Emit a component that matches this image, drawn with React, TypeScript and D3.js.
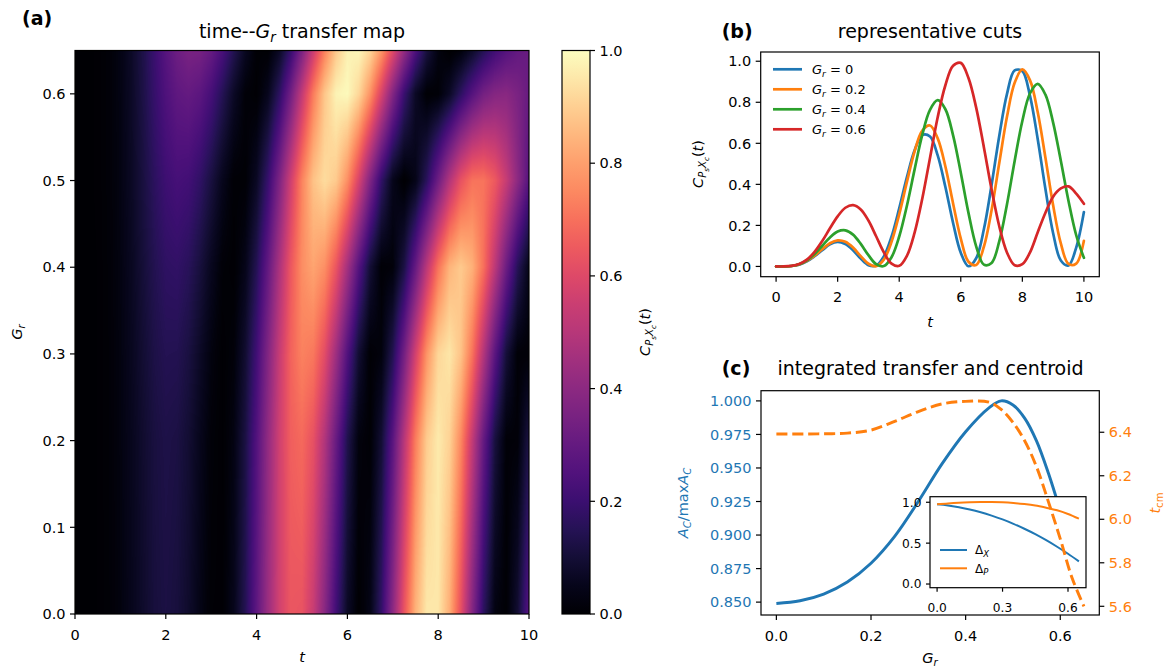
import { useMemo } from "react"
import * as d3 from "d3"

const FONT = "DejaVu Sans"
const TICK_FS = 14.5
const TITLE_FS = 19

// sample times shared by the heatmap rows and the cuts of panel (b)
const tSamples = [
  0, 0.25, 0.5, 0.75, 1, 1.25, 1.5, 1.75, 2, 2.25, 2.5, 2.75, 3, 3.25, 3.5, 3.75, 4, 4.25, 4.5, 4.75, 5,
  5.25, 5.5, 5.75, 6, 6.25, 6.5, 6.75, 7, 7.25, 7.5, 7.75, 8, 8.25, 8.5, 8.75, 9, 9.25, 9.5, 9.75, 10,
]

const cutGr000 = [
  0, 0.0, 0.002, 0.009, 0.025, 0.05, 0.079, 0.108, 0.12, 0.109, 0.079, 0.038, 0.006, 0.004, 0.049, 0.145,
  0.283, 0.435, 0.566, 0.64, 0.633, 0.541, 0.387, 0.212, 0.067, 0.001, 0.04, 0.181, 0.397, 0.636, 0.84,
  0.955, 0.952, 0.83, 0.62, 0.377, 0.162, 0.029, 0.005, 0.092, 0.265,
]
const cutGr020 = [
  0, 0.0, 0.002, 0.01, 0.027, 0.053, 0.084, 0.113, 0.127, 0.12, 0.092, 0.05, 0.013, 0.001, 0.033, 0.12,
  0.254, 0.412, 0.561, 0.662, 0.687, 0.624, 0.487, 0.307, 0.136, 0.023, 0.007, 0.096, 0.274, 0.504, 0.729,
  0.895, 0.96, 0.907, 0.751, 0.53, 0.298, 0.112, 0.012, 0.014, 0.125,
]
const cutGr030 = [
  0, 0.0, 0.002, 0.01, 0.028, 0.057, 0.092, 0.125, 0.144, 0.142, 0.116, 0.071, 0.026, 0.001, 0.017, 0.088,
  0.212, 0.372, 0.537, 0.671, 0.738, 0.718, 0.612, 0.442, 0.253, 0.092, 0.007, 0.023, 0.141, 0.337, 0.568,
  0.777, 0.916, 0.951, 0.876, 0.71, 0.493, 0.275, 0.104, 0.012, 0.01,
]
const cutGr040 = [
  0, 0.0, 0.002, 0.011, 0.03, 0.061, 0.101, 0.141, 0.17, 0.176, 0.155, 0.11, 0.055, 0.011, 0.002, 0.045,
  0.146, 0.296, 0.473, 0.642, 0.763, 0.81, 0.766, 0.639, 0.457, 0.261, 0.098, 0.009, 0.017, 0.122, 0.302,
  0.514, 0.709, 0.844, 0.89, 0.837, 0.701, 0.515, 0.319, 0.152, 0.042,
]
const cutGr050 = [
  0, 0.0, 0.003, 0.012, 0.032, 0.067, 0.113, 0.163, 0.204, 0.224, 0.215, 0.175, 0.114, 0.05, 0.007, 0.007,
  0.066, 0.189, 0.361, 0.557, 0.741, 0.874, 0.929, 0.892, 0.768, 0.581, 0.37, 0.179, 0.048, 0.0, 0.042,
  0.16, 0.324, 0.493, 0.63, 0.707, 0.709, 0.65, 0.54, 0.4, 0.26,
]
const cutGr060 = [
  0, 0.0, 0.003, 0.012, 0.033, 0.071, 0.124, 0.186, 0.244, 0.286, 0.299, 0.278, 0.224, 0.147, 0.069, 0.014,
  0.003, 0.052, 0.165, 0.331, 0.529, 0.727, 0.883, 0.978, 0.992, 0.918, 0.774, 0.581, 0.376, 0.196, 0.068,
  0.006, 0.011, 0.069, 0.167, 0.262, 0.34, 0.38, 0.39, 0.355, 0.305,
]
const cutGr065 = [
  0, 0.0, 0.003, 0.012, 0.034, 0.073, 0.128, 0.196, 0.264, 0.32, 0.351, 0.345, 0.303, 0.23, 0.141, 0.06,
  0.008, 0.006, 0.066, 0.187, 0.356, 0.549, 0.737, 0.887, 0.974, 0.985, 0.917, 0.783, 0.607, 0.418, 0.245,
  0.111, 0.028, 0.0, 0.02, 0.075, 0.145, 0.21, 0.26, 0.295, 0.31,
]
const grRows = [0, 0.2, 0.3, 0.4, 0.5, 0.6, 0.65]
const heatRows = [cutGr000, cutGr020, cutGr030, cutGr040, cutGr050, cutGr060, cutGr065]

const cutLabels = ["0", "0.2", "0.4", "0.6"]
const cutSeries = [cutGr000, cutGr020, cutGr040, cutGr060]
const cutColors = ["#1f77b4", "#ff7f0e", "#2ca02c", "#d62728"]

// panel (c)
const grC = [0, 0.05, 0.1, 0.15, 0.2, 0.25, 0.3, 0.35, 0.4, 0.45, 0.475, 0.5, 0.525, 0.55, 0.575, 0.6, 0.625, 0.65]
const areaNorm = [
  0.849, 0.851, 0.856, 0.865, 0.879, 0.899, 0.925, 0.953, 0.977, 0.995, 1.0, 0.997, 0.987, 0.97, 0.946,
  0.918, 0.888, 0.864,
]
const tCentroid = [
  6.392, 6.392, 6.393, 6.396, 6.41, 6.45, 6.495, 6.53, 6.542, 6.538, 6.505, 6.445, 6.36, 6.24, 6.08, 5.91,
  5.73, 5.6,
]
const grInset = [0, 0.05, 0.1, 0.15, 0.2, 0.25, 0.3, 0.35, 0.4, 0.45, 0.5, 0.55, 0.6, 0.65]
const deltaX = [0.975, 0.961, 0.939, 0.912, 0.878, 0.837, 0.79, 0.736, 0.676, 0.61, 0.536, 0.456, 0.37, 0.277]
const deltaP = [0.975, 0.986, 0.994, 0.999, 1.002, 1.002, 0.999, 0.991, 0.978, 0.96, 0.933, 0.902, 0.857, 0.8]

const fmt1 = d3.format(".1f")
const fmt3 = d3.format(".3f")

type Scale = d3.ScaleLinear<number, number>

function AxisBottom({ scale, ticks, y, fmt, fs = TICK_FS, len = 5, off = 25.5 }: any) {
  return (
    <g>
      {ticks.map((v: number) => (
        <g key={v}>
          <line x1={scale(v)} x2={scale(v)} y1={y} y2={y + len} stroke="#000" strokeWidth={1.2} />
          <text x={scale(v)} y={y + off} fontSize={fs} textAnchor="middle" fill="#000">
            {fmt(v)}
          </text>
        </g>
      ))}
    </g>
  )
}

function AxisSide({ scale, ticks, x, fmt, side, fs = TICK_FS, len = 5, color = "#000" }: any) {
  const dir = side === "left" ? -1 : 1
  return (
    <g>
      {ticks.map((v: number) => (
        <g key={v}>
          <line x1={x} x2={x + dir * len} y1={scale(v)} y2={scale(v)} stroke="#000" strokeWidth={1.2} />
          <text
            x={x + dir * (len + 4.5)}
            y={scale(v)}
            dy="0.36em"
            fontSize={fs}
            textAnchor={side === "left" ? "end" : "start"}
            fill={color}
          >
            {fmt(v)}
          </text>
        </g>
      ))}
    </g>
  )
}

// C_{P_s X_c}(t) in mathtext style
function CLabel({ x, y, fs = TICK_FS }: { x: number; y: number; fs?: number }) {
  const s1 = fs * 0.7
  const s2 = fs * 0.5
  return (
    <text transform={`translate(${x},${y}) rotate(-90)`} textAnchor="middle" fontSize={fs}>
      <tspan fontStyle="italic">C</tspan>
      <tspan fontStyle="italic" fontSize={s1} dy={3}>P</tspan>
      <tspan fontStyle="italic" fontSize={s2} dy={2.5}>s</tspan>
      <tspan fontStyle="italic" fontSize={s1} dy={-2.5}>X</tspan>
      <tspan fontStyle="italic" fontSize={s2} dy={2.5}>c</tspan>
      <tspan dy={-5.5}>(</tspan>
      <tspan fontStyle="italic">t</tspan>
      <tspan>)</tspan>
    </text>
  )
}

function useHeatmap(x: Scale, y: Scale) {
  return useMemo(() => {
    const [x0, x1] = x.range()
    const [y1, y0] = y.range()
    const w = Math.round(x1 - x0)
    const h = Math.round(y1 - y0)
    const canvas = document.createElement("canvas")
    canvas.width = w
    canvas.height = h
    const ctx = canvas.getContext("2d")
    if (!ctx) return ""
    const img = ctx.createImageData(w, h)
    const lut = d3.range(256).map((i) => d3.rgb(d3.interpolateMagma(i / 255)))
    const nT = tSamples.length
    const nG = grRows.length
    for (let py = 0; py < h; py++) {
      const g = Math.max(0, Math.min(0.65, y.invert(y0 + py + 0.5)))
      const i = Math.min(nG - 2, Math.max(0, d3.bisectRight(grRows, g) - 1))
      const fy = (g - grRows[i]) / (grRows[i + 1] - grRows[i])
      for (let px = 0; px < w; px++) {
        const t = Math.max(0, Math.min(10, x.invert(x0 + px + 0.5)))
        const j = Math.min(nT - 2, Math.max(0, d3.bisectRight(tSamples, t) - 1))
        const fx = (t - tSamples[j]) / (tSamples[j + 1] - tSamples[j])
        const a = heatRows[i][j] * (1 - fx) + heatRows[i][j + 1] * fx
        const b = heatRows[i + 1][j] * (1 - fx) + heatRows[i + 1][j + 1] * fx
        const v = Math.max(0, Math.min(1, a * (1 - fy) + b * fy))
        const c = lut[Math.round(v * 255)]
        const k = (py * w + px) * 4
        img.data[k] = c.r
        img.data[k + 1] = c.g
        img.data[k + 2] = c.b
        img.data[k + 3] = 255
      }
    }
    ctx.putImageData(img, 0, 0)
    return canvas.toDataURL()
  }, [x, y])
}

export default function App() {
  // panel (a)
  const xA = useMemo(() => d3.scaleLinear().domain([0, 10]).range([75, 529]), [])
  const yA = useMemo(() => d3.scaleLinear().domain([0, 0.65]).range([614, 50.5]), [])
  const cbY = d3.scaleLinear().domain([0, 1]).range([614, 50.5])
  const heatUrl = useHeatmap(xA, yA)

  // panel (b)
  const xB = d3.scaleLinear().domain([-0.5, 10.5]).range([760.7, 1099.3])
  const yB = d3.scaleLinear().domain([-0.05, 1.045]).range([276.7, 52])
  const lineB = (vals: number[]) =>
    d3
      .line<number>()
      .x((_, i) => xB(tSamples[i]))
      .y((d) => yB(d))
      .curve(d3.curveCatmullRom.alpha(0.5))(vals) as string

  // panel (c)
  const xC = d3.scaleLinear().domain([-0.0325, 0.6825]).range([761, 1099.3])
  const yL = d3.scaleLinear().domain([0.8404, 1.0076]).range([615, 390.7])
  const yR = d3.scaleLinear().domain([5.56, 6.591]).range([615, 390.7])
  const xI = d3.scaleLinear().domain([-0.0325, 0.6825]).range([930, 1086])
  const yI = d3.scaleLinear().domain([-0.045, 1.068]).range([587.7, 496.7])

  const lineC = (vals: number[], ys: Scale) =>
    d3
      .line<number>()
      .x((_, i) => xC(grC[i]))
      .y((d) => ys(d))
      .curve(d3.curveCatmullRom.alpha(0.5))(vals) as string
  const lineI = (vals: number[]) =>
    d3
      .line<number>()
      .x((_, i) => xI(grInset[i]))
      .y((d) => yI(d))
      .curve(d3.curveCatmullRom.alpha(0.5))(vals) as string

  const cbStops = d3.range(0, 1.0001, 0.05)

  return (
    <svg
      width={1166}
      height={667}
      style={{ position: "absolute", left: 0, top: 0, background: "#fff" }}
      fontFamily={FONT}
    >
      <defs>
        <linearGradient id="magmaBar" x1="0" y1="1" x2="0" y2="0">
          {cbStops.map((s) => (
            <stop key={s} offset={s} stopColor={d3.interpolateMagma(s)} />
          ))}
        </linearGradient>
        <clipPath id="clipB">
          <rect x={760.7} y={52} width={338.6} height={224.7} />
        </clipPath>
        <clipPath id="clipC">
          <rect x={761} y={390.7} width={338.3} height={224.3} />
        </clipPath>
      </defs>

      {/* ---------- (a) heatmap ---------- */}
      <text x={22} y={25} fontSize={TITLE_FS} fontWeight="bold">(a)</text>
      <text x={302} y={38} fontSize={TITLE_FS} textAnchor="middle">
        time--<tspan fontStyle="italic">G</tspan>
        <tspan fontStyle="italic" fontSize={TITLE_FS * 0.7} dy={4}>r</tspan>
        <tspan dy={-4}> transfer map</tspan>
      </text>
      {heatUrl && (
        <image href={heatUrl} x={75} y={50.5} width={454} height={563.5} preserveAspectRatio="none" />
      )}
      <rect x={75} y={50.5} width={454} height={563.5} fill="none" stroke="#000" strokeWidth={1.2} />
      <AxisBottom scale={xA} ticks={[0, 2, 4, 6, 8, 10]} y={614} fmt={(v: number) => `${v}`} />
      <AxisSide scale={yA} ticks={[0, 0.1, 0.2, 0.3, 0.4, 0.5, 0.6]} x={75} side="left" fmt={fmt1} />
      <text x={302} y={662} fontSize={TICK_FS} fontStyle="italic" textAnchor="middle">t</text>
      <text transform="translate(22,332) rotate(-90)" fontSize={TICK_FS} textAnchor="middle">
        <tspan fontStyle="italic">G</tspan>
        <tspan fontStyle="italic" fontSize={TICK_FS * 0.7} dy={3}>r</tspan>
      </text>

      {/* colorbar */}
      <rect x={562} y={50.5} width={28} height={563.5} fill="url(#magmaBar)" stroke="#000" strokeWidth={1.2} />
      <AxisSide scale={cbY} ticks={[0, 0.2, 0.4, 0.6, 0.8, 1]} x={590} side="right" fmt={fmt1} />
      <CLabel x={650} y={332} />

      {/* ---------- (b) cuts ---------- */}
      <text x={721.7} y={38} fontSize={TITLE_FS} fontWeight="bold">(b)</text>
      <text x={930} y={38} fontSize={TITLE_FS} textAnchor="middle">representative cuts</text>
      <g clipPath="url(#clipB)">
        {cutSeries.map((s, k) => (
          <path key={k} d={lineB(s)} fill="none" stroke={cutColors[k]} strokeWidth={2.7} strokeLinecap="round" />
        ))}
      </g>
      <rect x={760.7} y={52} width={338.6} height={224.7} fill="none" stroke="#000" strokeWidth={1.2} />
      <AxisBottom scale={xB} ticks={[0, 2, 4, 6, 8, 10]} y={276.7} fmt={(v: number) => `${v}`} />
      <AxisSide scale={yB} ticks={[0, 0.2, 0.4, 0.6, 0.8, 1]} x={760.7} side="left" fmt={fmt1} />
      <text x={930} y={327} fontSize={TICK_FS} fontStyle="italic" textAnchor="middle">t</text>
      <CLabel x={703} y={164} />
      {cutLabels.map((lab, k) => {
        const ly = 69.3 + k * 20
        return (
          <g key={lab}>
            <line x1={773} x2={802} y1={ly} y2={ly} stroke={cutColors[k]} strokeWidth={2.7} />
            <text x={812} y={ly + 4.6} fontSize={13}>
              <tspan fontStyle="italic">G</tspan>
              <tspan fontStyle="italic" fontSize={9.1} dy={2.6}>r</tspan>
              <tspan dy={-2.6}> = {lab}</tspan>
            </text>
          </g>
        )
      })}

      {/* ---------- (c) integrated transfer ---------- */}
      <text x={721.7} y={375} fontSize={TITLE_FS} fontWeight="bold">(c)</text>
      <text x={930.5} y={375} fontSize={TITLE_FS} textAnchor="middle">integrated transfer and centroid</text>
      <g clipPath="url(#clipC)">
        <path d={lineC(areaNorm, yL)} fill="none" stroke="#1f77b4" strokeWidth={2.95} />
      </g>
      <rect x={761} y={390.7} width={338.3} height={224.3} fill="none" stroke="#000" strokeWidth={1.2} />
      <AxisBottom scale={xC} ticks={[0, 0.2, 0.4, 0.6]} y={615} fmt={fmt1} />
      <AxisSide
        scale={yL}
        ticks={[0.85, 0.875, 0.9, 0.925, 0.95, 0.975, 1.0]}
        x={761}
        side="left"
        fmt={fmt3}
        color="#1f77b4"
      />
      <AxisSide
        scale={yR}
        ticks={[5.6, 5.8, 6.0, 6.2, 6.4]}
        x={1099.3}
        side="right"
        fmt={fmt1}
        color="#ff7f0e"
      />
      <text x={930} y={663} fontSize={TICK_FS} textAnchor="middle">
        <tspan fontStyle="italic">G</tspan>
        <tspan fontStyle="italic" fontSize={TICK_FS * 0.7} dy={3}>r</tspan>
      </text>
      <text transform="translate(688,503) rotate(-90)" fontSize={TICK_FS} textAnchor="middle" fill="#1f77b4">
        <tspan fontStyle="italic">A</tspan>
        <tspan fontStyle="italic" fontSize={TICK_FS * 0.7} dy={3}>C</tspan>
        <tspan dy={-3}>/max</tspan>
        <tspan fontStyle="italic">A</tspan>
        <tspan fontStyle="italic" fontSize={TICK_FS * 0.7} dy={3}>C</tspan>
      </text>
      <text transform="translate(1160,503) rotate(-90)" fontSize={TICK_FS} textAnchor="middle" fill="#ff7f0e">
        <tspan fontStyle="italic">t</tspan>
        <tspan fontSize={TICK_FS * 0.7} dy={3}>cm</tspan>
      </text>

      {/* inset */}
      <rect x={930} y={496.7} width={156} height={91} fill="#fff" stroke="#000" strokeWidth={1.2} />
      <path d={lineI(deltaX)} fill="none" stroke="#1f77b4" strokeWidth={2} />
      <path d={lineI(deltaP)} fill="none" stroke="#ff7f0e" strokeWidth={2} />
      <AxisBottom scale={xI} ticks={[0, 0.3, 0.6]} y={587.7} fmt={fmt1} fs={12.2} len={4} off={24} />
      <AxisSide scale={yI} ticks={[0, 0.5, 1]} x={930} side="left" fmt={fmt1} fs={12.2} len={4} />
      {["X", "P"].map((sub, k) => {
        const ly = 550 + k * 18.3
        return (
          <g key={sub}>
            <line x1={940} x2={967} y1={ly} y2={ly} stroke={cutColors[k]} strokeWidth={2} />
            <text x={975} y={ly + 4.3} fontSize={12}>
              Δ<tspan fontStyle="italic" fontSize={8.4} dy={2.5}>{sub}</tspan>
            </text>
          </g>
        )
      })}

      {/* twin axis curve drawn on top of the inset */}
      <g clipPath="url(#clipC)">
        <path
          d={lineC(tCentroid, yR)}
          fill="none"
          stroke="#ff7f0e"
          strokeWidth={2.95}
          strokeDasharray="11.1 4.8"
        />
      </g>
    </svg>
  )
}
